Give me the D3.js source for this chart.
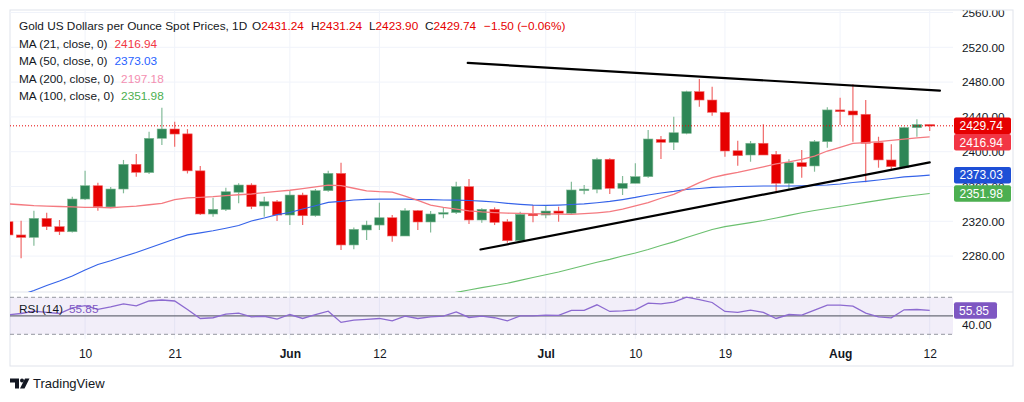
<!DOCTYPE html>
<html>
<head>
<meta charset="utf-8">
<script src="https://cdn.jsdelivr.net/npm/d3@7"></script>
<style>
  body { margin: 0; background: #fff; }
  svg { display: block; font-family: "Liberation Sans", Arial, sans-serif; }
</style>
</head>
<body>
<svg width="1024" height="402"></svg>
<script>
// trading days, May 2 - Aug 12 2024
const dates = [
  "05-02","05-03","05-06","05-07","05-08","05-09","05-10","05-13","05-14","05-15",
  "05-16","05-17","05-20","05-21","05-22","05-23","05-24","05-27","05-28","05-29",
  "05-30","05-31","06-03","06-04","06-05","06-06","06-07","06-10","06-11","06-12",
  "06-13","06-14","06-17","06-18","06-19","06-20","06-21","06-24","06-25","06-26",
  "06-27","06-28","07-01","07-02","07-03","07-04","07-05","07-08","07-09","07-10",
  "07-11","07-12","07-15","07-16","07-17","07-18","07-19","07-22","07-23","07-24",
  "07-25","07-26","07-29","07-30","07-31","08-01","08-02","08-05","08-06","08-07",
  "08-08","08-09","08-12"
];

const open = [
  2319.5,2304.3,2301.5,2323.4,2313.8,2308,2345.6,2360.9,2336.5,2357.1,
  2385.5,2376,2415.4,2426.1,2420.5,2378,2328.4,2333.5,2353.4,2361.7,
  2337.6,2342.5,2327.2,2350.2,2326.4,2355.2,2375.1,2292.8,2310,2315.7,
  2324.1,2303.1,2332.2,2319.2,2329.5,2330,2359.8,2321.5,2333.8,2319.5,
  2297.7,2328.4,2327.2,2331.8,2329.2,2356,2356.8,2391.3,2357.9,2363.7,
  2371.3,2414.2,2410.8,2421.1,2469,2459.4,2445.3,2401.1,2396.2,2409.7,
  2397,2363.7,2387.4,2383.6,2411.5,2448,2446.8,2443,2410.3,2390.5,
  2381.6,2427.6,2431.24
];
const high = [
  2323,2320.7,2332.2,2329.9,2321.5,2348.3,2378.2,2364.4,2359.4,2390.5,
  2397.4,2423,2450.6,2434.5,2426,2383.6,2347.1,2358.6,2363.7,2363.7,
  2348.3,2344.5,2355.2,2352.9,2357.1,2378.2,2387.4,2313,2320.7,2341.4,
  2327.2,2335,2333,2331.8,2336,2365.5,2368.6,2335,2336,2322.3,
  2331,2338.7,2337.5,2336.8,2365.5,2361.7,2393.1,2392.4,2372.1,2386.7,
  2425,2418,2440.2,2470.1,2483.6,2474.7,2446,2412.6,2412.3,2431.5,
  2400.8,2391.3,2402,2413.4,2451,2462,2477.5,2459.4,2417.2,2408.5,
  2428.7,2437.2,2431.24
];
const low = [
  2302,2277.5,2292,2310,2304.3,2307,2344.5,2332.2,2335,2352.2,
  2371.3,2374.4,2407.7,2405.7,2375,2327.2,2325.3,2331.8,2340.7,2334,
  2325.3,2320.3,2315.7,2315.7,2325.3,2354,2287,2287.8,2298.5,2310,
  2296.6,2303,2310,2307,2323.5,2328.4,2316.9,2318.4,2315.7,2295.4,
  2296.6,2318.8,2323.5,2319.5,2327.2,2351,2352.2,2351.4,2350.2,2363.7,
  2370,2391.6,2402,2420,2451.7,2441.4,2394.3,2383.9,2388.5,2396.2,
  2354,2357.1,2370,2377,2404.6,2430.7,2411.5,2364.8,2381.6,2379,
  2380.9,2417.2,2423.9
];
const close = [
  2304.3,2301.5,2323.4,2313.8,2308,2345.6,2360.9,2336.8,2357.1,2385.5,
  2376.3,2415.4,2426.1,2420.3,2378,2328.4,2333.8,2354,2361.7,2336.8,
  2342.5,2327.2,2350.2,2326.4,2355.2,2375.1,2292.8,2310.8,2315.7,2324.1,
  2303.1,2332.2,2319.2,2328.4,2330,2359.8,2321.5,2333.8,2318.8,2297.7,
  2328,2326.4,2331.8,2329.2,2356,2357,2391.3,2357.9,2363.7,2371.3,
  2414.6,2410.8,2421.8,2469,2459.4,2445.3,2400.8,2395.4,2409.7,2396.2,
  2363.7,2387.4,2382.8,2411.5,2448,2446,2442.2,2409.7,2390.5,2382.8,
  2427.6,2431.24,2429.74
];

// moving averages
const ma21 = [
  2340,2339,2338,2337.5,2337,2336.5,2336,2336,2335.6,2336.5,
  2337.5,2339,2340.5,2345,2347,2347.5,2348.3,2349.5,2350.5,2351.4,
  2353,2354.3,2355.7,2357.5,2359.5,2361.5,2361,2358,2355,2354,
  2353.5,2349,2344,2338.7,2336,2334,2332,2330.8,2330,2329.3,
  2329,2328.7,2328.5,2328.2,2328,2328.8,2329.8,2331,2334,2337.6,
  2341.5,2346.5,2351,2357.5,2364.5,2370.3,2373.5,2376.2,2379.3,2382.5,
  2385.9,2388.3,2391.3,2395,2400.8,2405,2409.5,2410.5,2411.5,2413,
  2414.5,2415.8,2416.94
];
const ma50 = [
  2230.7,2235.3,2240.5,2246.2,2251.4,2257.1,2264,2270.3,2274.6,2279.5,
  2284.1,2289.3,2294.5,2299.7,2304.3,2306.6,2309.1,2312,2315.2,2320.3,
  2323.8,2327.6,2330.1,2334.1,2337.9,2341.8,2342.8,2344.5,2345.3,2345.6,
  2345.6,2345.4,2345,2344.8,2344.5,2344.3,2343.9,2343.3,2342.2,2340.7,
  2339.5,2338.5,2338.2,2338.7,2339.3,2340.1,2341.3,2342.8,2345,2347.4,
  2350.2,2352.5,2354.3,2356.6,2357.7,2358.9,2359.4,2360,2360.3,2360.6,
  2360.6,2360.6,2360.8,2361.2,2361.7,2362.9,2364.6,2366,2367.5,2369.2,
  2371,2372,2373.03
];
// MA100 only enters the pane from late June
const ma100Start = 33;
const ma100 = [
  2233,2235.6,2238.3,2241,2243.7,2246.2,2248.8,2252.1,2255.4,2258.6,
  2261.7,2265.5,2269.2,2272.9,2276.3,2280.1,2283.6,2287.6,2292.2,2296.4,
  2301.4,2306,2310.6,2313.8,2316.1,2318.4,2320.9,2323.8,2326.9,2329.8,
  2332.4,2334.7,2337,2339.3,2341.8,2344.1,2346.4,2348.5,2350.2,2351.98
];
const ma200Last = 2197.18; // below the visible range

const rsi = [
  51,52.5,55,53.6,52.5,58.5,61,57,59.6,62.9,
  60.7,66,67.1,66,56.8,47.1,47.9,51.8,52.9,48.9,
  49.5,46.4,51.4,47.1,51.4,55,42.9,45.4,46.1,47.1,
  44.6,49.6,47.1,48.9,49.6,54.3,48.2,49.6,47.9,44.5,
  50,50,50.7,50.4,55.8,55.8,61.9,54.7,55.4,56.5,
  63.7,63,64.8,70.2,67.6,64.4,54.7,53.6,56.2,53.6,
  47.1,51.4,50.7,56.2,61.6,61.6,60.5,52.9,48.9,47.8,
  56.5,56.8,55.85
];

// hand drawn trendlines: [bar index, price]
const upperTrend = [[35.9, 2502], [72.8, 2470.1]];
const lowerTrend = [[36.9, 2287.6], [72.0, 2387.8]];

const priceTicks = [2280, 2320, 2360, 2400, 2440, 2480, 2520, 2560];
const tickDates = ["05-10", "05-21", "06-03", "06-12", "07-01", "07-10", "07-19", "08-01", "08-12"];
const tickLabels = ["10", "21", "Jun", "12", "Jul", "10", "19", "Aug", "12"];

const svg = d3.select("svg");
const fmt = d3.format(".2f");

// layout
const L = 10, R = 953, T = 10, paneBottom = 292, rsiBottom = 339;
const upCol = "#2e8656", downCol = "#e60000";
const upWick = "#84bb99", downWick = "#f06a6a";
const gridCol = "#f0f3fa", textCol = "#131722";

const x = d3.scaleLinear().domain([0, dates.length - 1]).range([8.3, 929.7]);
const y = d3.scaleLinear().domain([2280, 2560]).range([256.1, 12.5]);
const yr = d3.scaleLinear().domain([30, 70]).range([334.3, 297.3]);

const defs = svg.append("defs");
defs.append("clipPath").attr("id", "clipP")
  .append("rect").attr("x", L).attr("y", T).attr("width", R - L).attr("height", paneBottom - T);
defs.append("clipPath").attr("id", "clipR")
  .append("rect").attr("x", L).attr("y", paneBottom).attr("width", R - L).attr("height", rsiBottom - paneBottom);
defs.append("clipPath").attr("id", "clipAx")
  .append("rect").attr("x", R).attr("y", T + 0.5).attr("width", 60).attr("height", paneBottom - T);

// frame
svg.append("rect")
  .attr("x", L).attr("y", T).attr("width", 1003).attr("height", 356)
  .attr("fill", "none").attr("stroke", "#e0e3eb");

// grid
const tickIdx = tickDates.map(d => dates.indexOf(d));
svg.append("g").selectAll("line").data(priceTicks).join("line")
  .attr("x1", L).attr("x2", R)
  .attr("y1", d => y(d)).attr("y2", d => y(d))
  .attr("stroke", gridCol);
svg.append("g").selectAll("line").data(tickIdx).join("line")
  .attr("x1", d => x(d)).attr("x2", d => x(d))
  .attr("y1", T).attr("y2", rsiBottom)
  .attr("stroke", gridCol);

// pane separator
svg.append("line").attr("x1", L).attr("x2", 1013).attr("y1", paneBottom).attr("y2", paneBottom)
  .attr("stroke", "#e0e3eb");

// candles
const bars = d3.range(dates.length);
const pane = svg.append("g").attr("clip-path", "url(#clipP)");
const cg = pane.append("g");
cg.selectAll("line").data(bars).join("line")
  .attr("x1", i => x(i)).attr("x2", i => x(i))
  .attr("y1", i => y(high[i])).attr("y2", i => y(low[i]))
  .attr("stroke", i => close[i] >= open[i] ? upWick : downWick)
  .attr("stroke-width", 1.2);
const bw = 9.4;
cg.selectAll("rect").data(bars).join("rect")
  .attr("x", i => x(i) - bw / 2)
  .attr("width", bw)
  .attr("y", i => y(Math.max(open[i], close[i])))
  .attr("height", i => Math.max(1.5, Math.abs(y(open[i]) - y(close[i]))))
  .attr("fill", i => close[i] >= open[i] ? upCol : downCol)
  .attr("stroke", i => close[i] >= open[i] ? "#7fb893" : "#f06a6a")
  .attr("stroke-width", 0.6);

// moving averages
const maLine = d3.line().x(d => x(d[0])).y(d => y(d[1]));
pane.append("path").datum(ma100.map((v, j) => [ma100Start + j, v]))
  .attr("d", maLine).attr("fill", "none").attr("stroke", "#6cc070").attr("stroke-width", 1.2);
pane.append("path").datum(ma50.map((v, i) => [i, v]))
  .attr("d", maLine).attr("fill", "none").attr("stroke", "#3563e9").attr("stroke-width", 1.2);
pane.append("path").datum(ma21.map((v, i) => [i, v]))
  .attr("d", maLine).attr("fill", "none").attr("stroke", "#f47a80").attr("stroke-width", 1.3);

// trendlines
[upperTrend, lowerTrend].forEach(t => {
  pane.append("line")
    .attr("x1", x(t[0][0])).attr("y1", y(t[0][1]))
    .attr("x2", x(t[1][0])).attr("y2", y(t[1][1]))
    .attr("stroke", "#000").attr("stroke-width", 2.2).attr("stroke-linecap", "round");
});

// last price line
const last = close.length - 1;
svg.append("line")
  .attr("x1", L).attr("x2", R)
  .attr("y1", y(close[last])).attr("y2", y(close[last]))
  .attr("stroke", downCol).attr("stroke-width", 1).attr("stroke-dasharray", "1,2");

// price axis
const yAxis = svg.append("g").attr("clip-path", "url(#clipAx)")
  .append("g")
  .attr("transform", `translate(962,0)`)
  .call(d3.axisRight(y).tickValues(priceTicks).tickFormat(fmt).tickSize(0).tickPadding(0));
yAxis.select(".domain").remove();
yAxis.selectAll("text").attr("fill", textCol).attr("font-size", "11.8px")
  .attr("font-family", "Liberation Sans, Arial, sans-serif");

// price labels on axis
const tags = [
  { v: close[last], c: "#e60000" },
  { v: ma21[last], c: "#f23645" },
  { v: ma50[last], c: "#1e4fd6" },
  { v: ma100[ma100.length - 1], c: "#4caf50" }
];
let prev = -100;
const boxH = 16.5;
tags.forEach(t => {
  const cy = Math.max(y(t.v), prev + boxH);
  prev = cy;
  svg.append("rect").attr("x", 954).attr("y", cy - boxH / 2).attr("width", 57).attr("height", boxH)
    .attr("rx", 2).attr("fill", t.c);
  svg.append("text").attr("x", 959.5).attr("y", cy + 4.2)
    .attr("fill", "#fff").attr("font-size", "12px").text(fmt(t.v));
});

// RSI pane
const rp = svg.append("g").attr("clip-path", "url(#clipR)");
rp.append("rect").attr("x", L).attr("width", R - L)
  .attr("y", yr(70)).attr("height", yr(30) - yr(70))
  .attr("fill", "#7e57c2").attr("fill-opacity", 0.1);
[70, 30].forEach(v => {
  rp.append("line").attr("x1", L).attr("x2", R).attr("y1", yr(v)).attr("y2", yr(v))
    .attr("stroke", "#9598a1").attr("stroke-dasharray", "4,3");
});
rp.append("line").attr("x1", L).attr("x2", R).attr("y1", yr(50)).attr("y2", yr(50))
  .attr("stroke", "#6a6d78").attr("stroke-width", 1.3);
rp.append("path").datum(rsi.map((v, i) => [i, v]))
  .attr("d", d3.line().x(d => x(d[0])).y(d => yr(d[1])))
  .attr("fill", "none").attr("stroke", "#8c6ad0").attr("stroke-width", 1.3);

svg.append("text").attr("x", 962).attr("y", yr(40) + 4.2)
  .attr("fill", textCol).attr("font-size", "11.8px").text("40.00");
svg.append("rect").attr("x", 954).attr("y", yr(rsi[last]) - boxH / 2).attr("width", 43).attr("height", boxH)
  .attr("rx", 2).attr("fill", "#7e57c2");
svg.append("text").attr("x", 959).attr("y", yr(rsi[last]) + 4.2)
  .attr("fill", "#fff").attr("font-size", "12px").text(fmt(rsi[last]));

const rsiLeg = svg.append("text").attr("x", 19).attr("y", 312.5).attr("font-size", "11.8px");
rsiLeg.append("tspan").attr("fill", textCol).text("RSI (14)");
rsiLeg.append("tspan").attr("dx", 6).attr("fill", "#7e57c2").text(fmt(rsi[last]));

// time axis
const xAxis = svg.append("g")
  .attr("transform", `translate(0,346)`)
  .call(d3.axisBottom(x).tickValues(tickIdx).tickFormat((d, i) => tickLabels[i]).tickSize(0));
xAxis.select(".domain").remove();
xAxis.selectAll("text").attr("fill", textCol).attr("font-size", "12px")
  .attr("font-family", "Liberation Sans, Arial, sans-serif")
  .attr("font-weight", (d, i) => isNaN(+tickLabels[i]) ? "bold" : "normal");

// header legend
const chg = close[last] - close[last - 1];
const head = svg.append("text").attr("y", 30).attr("font-size", "11.8px");
head.append("tspan").attr("x", 19).attr("fill", textCol).text("Gold US Dollars per Ounce Spot Prices, 1D");
[["O", open[last], 252], ["H", high[last], 311], ["L", low[last], 369], ["C", close[last], 425]].forEach(p => {
  head.append("tspan").attr("x", p[2]).attr("fill", textCol).text(p[0]);
  head.append("tspan").attr("fill", downCol).text(fmt(p[1]));
});
head.append("tspan").attr("x", 484).attr("fill", downCol)
  .text(`${d3.format("+.2f")(chg).replace("-", "\u2212")} (${d3.format("+.2f")(chg / close[last - 1] * 100).replace("-", "\u2212")}%)`);

const maRows = [
  ["MA (21, close, 0)", ma21[last], "#f23645"],
  ["MA (50, close, 0)", ma50[last], "#2962ff"],
  ["MA (200, close, 0)", ma200Last, "#f48fb1"],
  ["MA (100, close, 0)", ma100[ma100.length - 1], "#4caf50"]
];
maRows.forEach((r, k) => {
  const t = svg.append("text").attr("x", 19).attr("y", 47.5 + k * 17.5).attr("font-size", "11.8px");
  t.append("tspan").attr("fill", textCol).text(r[0]);
  t.append("tspan").attr("dx", 7).attr("fill", r[2]).text(fmt(r[1]));
});

// TradingView logo
const logo = svg.append("g").attr("fill", textCol);
logo.append("path").attr("d", "M10,378.5 h9 v10 h-4 v-6 h-5 z");
logo.append("circle").attr("cx", 22).attr("cy", 380.5).attr("r", 2);
logo.append("path").attr("d", "M25,378.5 h4.5 l-5,10 h-4.5 z");
svg.append("text").attr("x", 33).attr("y", 388).attr("font-size", "13px")
  .attr("fill", textCol).text("TradingView");
</script>
</body>
</html>
